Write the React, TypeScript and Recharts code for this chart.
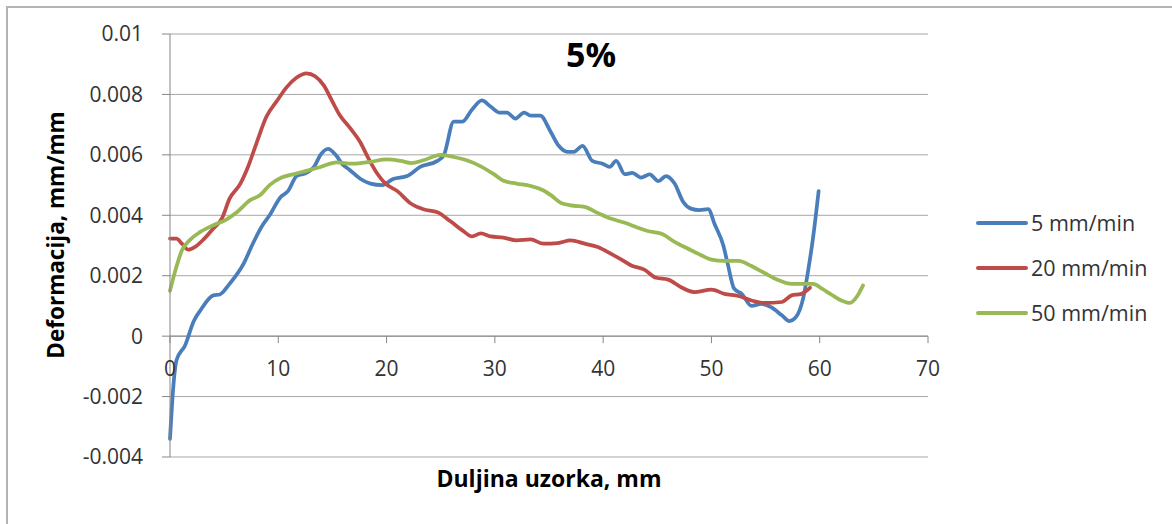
import { LineChart, Line, XAxis, YAxis, CartesianGrid, ReferenceLine } from 'recharts';

// values: [duljina (mm), deformacija (mm/mm)]
const speed5: [number, number][] = [
  [0, -0.0034], [0.3, -0.0017], [0.6, -0.0008], [1.4, -0.0003], [2.2, 0.0005], [2.8, 0.00085],
  [4, 0.00135], [4.6, 0.00138], [5.5, 0.00173], [6.8, 0.0024], [7.7, 0.0031], [8.6, 0.0037],
  [9.2, 0.004], [10.2, 0.0046], [10.9, 0.0048], [11.7, 0.0053], [12.6, 0.0054], [13.3, 0.0056],
  [13.9, 0.006], [14.6, 0.0062], [15.3, 0.006], [15.9, 0.0057], [16.6, 0.0055], [17.6, 0.0052],
  [18.5, 0.00505], [19.6, 0.005], [20.6, 0.0052], [21.9, 0.0053], [23.1, 0.0056], [24.7, 0.0058],
  [25.3, 0.006], [26.2, 0.0071], [27, 0.0071], [27.9, 0.0075], [28.8, 0.0078], [29.6, 0.0076],
  [30.4, 0.0074], [31.1, 0.0074], [31.9, 0.0072], [32.7, 0.0074], [33.3, 0.0073], [34.2, 0.0073],
  [35.1, 0.0068], [35.9, 0.0063], [36.7, 0.0061], [37.3, 0.0061], [38.1, 0.0063], [39, 0.0058],
  [40, 0.0057], [40.6, 0.0056], [41.2, 0.0058], [42, 0.00536], [42.7, 0.0054], [43.5, 0.00525],
  [44.3, 0.00535], [45.1, 0.00513], [45.8, 0.0053], [46.6, 0.00505], [47.4, 0.00444], [48.1, 0.00422],
  [48.9, 0.00417], [49.7, 0.0042], [50.3, 0.0037], [51.1, 0.003], [51.5, 0.0024], [52.1, 0.00157],
  [52.8, 0.0014], [53.7, 0.001], [54.6, 0.00107], [55.5, 0.00096], [56.5, 0.00069], [57.2, 0.0005],
  [57.8, 0.00063], [58.5, 0.0013], [58.9, 0.0021], [59.4, 0.0033], [59.9, 0.0048],
];

const speed20: [number, number][] = [
  [0, 0.00323], [0.6, 0.00323], [1.1, 0.00306], [1.7, 0.00286], [2.3, 0.00295], [3.1, 0.0032],
  [4, 0.00356], [4.8, 0.0039], [5.5, 0.00455], [6.5, 0.00505], [7.2, 0.0056], [8, 0.0064],
  [8.9, 0.00726], [9.9, 0.0078], [10.8, 0.00825], [11.7, 0.00856], [12.6, 0.0087], [13.4, 0.0086],
  [14.2, 0.0083], [15, 0.00776], [15.7, 0.0073], [16.6, 0.0069], [17.6, 0.0064], [18.3, 0.0059],
  [19.1, 0.0054], [19.9, 0.00505], [21, 0.0048], [22.2, 0.0044], [23.4, 0.0042], [24.7, 0.0041],
  [25.9, 0.0038], [27, 0.0035], [27.9, 0.0033], [28.7, 0.0034], [29.6, 0.0033], [30.8, 0.00326],
  [32, 0.00317], [33.3, 0.0032], [34.5, 0.00306], [35.8, 0.00308], [37, 0.00317], [38.3, 0.00306],
  [39.5, 0.00295], [40.7, 0.00273], [41.7, 0.00253], [42.6, 0.00234], [43.8, 0.0022], [44.9, 0.00193],
  [46, 0.00187], [47.2, 0.00162], [48.4, 0.00146], [50, 0.00154], [51.2, 0.0014], [52.5, 0.00133],
  [53.7, 0.00118], [54.9, 0.0011], [56.5, 0.00113], [57.4, 0.00135], [58.3, 0.0014], [59.1, 0.0016],
];

const speed50: [number, number][] = [
  [0, 0.0015], [0.5, 0.00218], [1.1, 0.00284], [1.8, 0.00317], [2.8, 0.00345], [4, 0.00367],
  [5.2, 0.00386], [6.2, 0.00411], [7.4, 0.0045], [8.3, 0.00466], [9.2, 0.005], [10.3, 0.00525],
  [11.4, 0.00536], [12.6, 0.00547], [13.9, 0.0056], [15.4, 0.00575], [16.9, 0.00571], [18.5, 0.00577],
  [20, 0.00585], [21.3, 0.0058], [22.3, 0.00573], [23.4, 0.00582], [25, 0.006], [26.2, 0.00593],
  [27.4, 0.00582], [28.7, 0.00562], [29.9, 0.00536], [30.8, 0.00514], [32, 0.00505], [33.3, 0.00497],
  [34.5, 0.00482], [35.2, 0.00466], [36.1, 0.00441], [37, 0.00433], [38.3, 0.00428], [39.5, 0.00408],
  [40.7, 0.00389], [42, 0.00375], [43.2, 0.00359], [44.1, 0.00348], [45.4, 0.00339], [46.6, 0.00312],
  [47.8, 0.0029], [49.1, 0.00267], [50, 0.00253], [51.2, 0.00249], [52.5, 0.00249], [53.7, 0.00232],
  [54.9, 0.00209], [56.1, 0.00187], [57.4, 0.00173], [58.6, 0.00173], [59.4, 0.00173], [60.2, 0.00157],
  [61.1, 0.00137], [62, 0.00118], [62.8, 0.0011], [63.4, 0.00129], [64, 0.00168],
];

const xTicks = [0, 10, 20, 30, 40, 50, 60, 70];
const yTicks = [-0.004, -0.002, 0, 0.002, 0.004, 0.006, 0.008, 0.01];

const series = [
  { name: '5 mm/min', color: '#4a7ebb', points: speed5 },
  { name: '20 mm/min', color: '#be4b48', points: speed20 },
  { name: '50 mm/min', color: '#98b954', points: speed50 },
];

const W = 1172;
const H = 524;
const PLOT_TOP = 34;
const PLOT_H = 423;
const Y_MIN = -0.004;
const Y_MAX = 0.01;
const FONT = '"Open Sans", sans-serif';

// x axis sits on y = 0, not at the bottom of the plot
const zeroY = PLOT_TOP + (PLOT_H * Y_MAX) / (Y_MAX - Y_MIN);

function XTick(props: any) {
  const { x, payload } = props;
  return (
    <g>
      <line x1={x} x2={x} y1={zeroY} y2={zeroY + 7} stroke="#868686" />
      <text x={x} y={zeroY + 40} textAnchor="middle" fontSize={21} fill="#333" fontFamily={FONT}>
        {payload.value}
      </text>
    </g>
  );
}

export default function App() {
  return (
    <div style={{ position: 'absolute', left: 0, top: 0, width: W, height: H, overflow: 'hidden', background: '#fff' }}>
      <div style={{ position: 'absolute', left: 6, top: 6, right: -10, bottom: -10, borderTop: '2px solid #b3b3b3', borderLeft: '2px solid #b3b3b3' }} />
      <div style={{ position: 'absolute', left: 0, top: 0 }}>
        <LineChart width={W} height={H} margin={{ top: PLOT_TOP, right: 244, left: 70, bottom: 37 }}>
          <CartesianGrid vertical={false} stroke="#a6a6a6" />
          <XAxis
            type="number"
            dataKey="x"
            domain={[0, 70]}
            ticks={xTicks}
            axisLine={false}
            tickLine={false}
            height={30}
            tick={<XTick />}
            allowDuplicatedCategory={false}
          />
          <YAxis
            type="number"
            domain={[Y_MIN, Y_MAX]}
            ticks={yTicks}
            width={100}
            stroke="#868686"
            tickSize={8}
            tickMargin={19}
            tick={{ fontSize: 21, fill: '#333', fontFamily: FONT }}
            tickFormatter={(v: number) => String(v)}
          />
          <ReferenceLine y={0} stroke="#868686" />
          {series.map((s) => (
            <Line
              key={s.name}
              name={s.name}
              data={s.points.map(([x, y]) => ({ x, y }))}
              dataKey="y"
              type="monotone"
              stroke={s.color}
              strokeWidth={3.75}
              strokeLinecap="round"
              dot={false}
              isAnimationActive={false}
            />
          ))}
        </LineChart>
      </div>
      <div style={{ position: 'absolute', left: 976, top: 200, fontFamily: FONT, fontSize: 21.5, color: '#333' }}>
        {series.map((s) => (
          <div key={s.name} style={{ display: 'flex', alignItems: 'center', height: 45 }}>
            <div style={{ width: 52, height: 4, borderRadius: 2, background: s.color, marginRight: 3 }} />
            <span>{s.name}</span>
          </div>
        ))}
      </div>
      <svg width={W} height={H} style={{ position: 'absolute', left: 0, top: 0, pointerEvents: 'none' }}>
        <text x={591} y={67} textAnchor="middle" fontSize={34} fontWeight="bold" fontFamily={FONT}>5%</text>
        <text x={549} y={487} textAnchor="middle" fontSize={23} fontWeight="bold" fontFamily={FONT}>Duljina uzorka, mm</text>
        <text transform="translate(64,235) rotate(-90)" textAnchor="middle" fontSize={22.5} fontWeight="bold" fontFamily={FONT}>
          Deformacija, mm/mm
        </text>
      </svg>
    </div>
  );
}
